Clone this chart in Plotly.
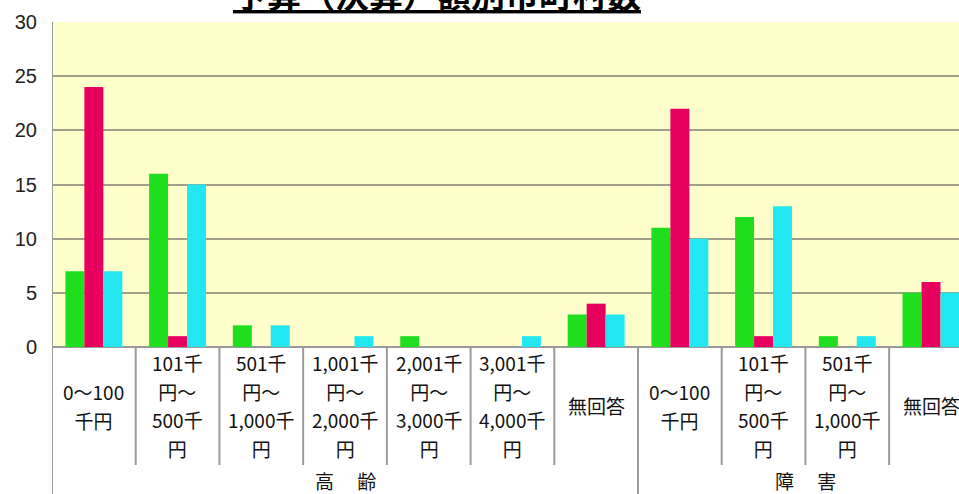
import plotly.graph_objects as go

# 区分ラベル（グループ別）
group_names = ["高　 齢", "障　 害"]
age_categories = [
    "0〜100<br>千円",
    "101千<br>円〜<br>500千<br>円",
    "501千<br>円〜<br>1,000千<br>円",
    "1,001千<br>円〜<br>2,000千<br>円",
    "2,001千<br>円〜<br>3,000千<br>円",
    "3,001千<br>円〜<br>4,000千<br>円",
    "無回答",
]
disability_categories = [
    "0〜100<br>千円",
    "101千<br>円〜<br>500千<br>円",
    "501千<br>円〜<br>1,000千<br>円",
    "無回答",
]

# 市町村数（系列別）
series_green = [7, 16, 2, 0, 1, 0, 3, 11, 12, 1, 5]
series_red = [24, 1, 0, 0, 0, 0, 4, 22, 1, 0, 6]
series_cyan = [7, 15, 2, 1, 0, 1, 3, 10, 13, 1, 5]

y_ticks = [0, 5, 10, 15, 20, 25, 30]

title_text = "予算（決算）額別市町村数"

categories = age_categories + disability_categories
group_sizes = [len(age_categories), len(disability_categories)]
x_pos = list(range(len(categories)))

W, H = 959, 494
M_L, M_R, M_T, M_B = 52, 0, 22, 147
plot_h = H - M_T - M_B


def py(px_from_top):
    """Convert a pixel row (from figure top) to paper y."""
    return (H - M_B - px_from_top) / plot_h


fig = go.Figure()
for vals, color, name in [
    (series_green, "#1ede1e", "green"),
    (series_red, "#e8005e", "red"),
    (series_cyan, "#22e6f0", "cyan"),
]:
    fig.add_trace(go.Bar(
        x=x_pos, y=vals, name=name,
        marker=dict(color=color, line=dict(width=0)),
        hoverinfo="y",
    ))

GRID = "#a09f8c"
DIV = "#9a9a9a"

shapes = []
annotations = []

# category labels and dividers below the axis
label_font = dict(family="Noto Sans CJK JP", size=22, color="#111111")
for i, lab in enumerate(categories):
    annotations.append(dict(
        x=i, xref="x", y=py(406), yref="paper",
        text="<br>".join(f"<span style='font-size:19px'>{part}</span>"
                         for part in lab.split("<br>")),
        showarrow=False, xanchor="center", yanchor="middle",
        align="center", font=label_font,
    ))

boundaries = []
start = 0
for g, size in zip(group_names, group_sizes):
    boundaries.append(start - 0.5)
    annotations.append(dict(
        x=start + (size - 1) / 2, xref="x", y=py(480), yref="paper",
        text=f"<span style='font-size:19px'>{g}</span>",
        showarrow=False, xanchor="center", yanchor="middle",
        font=label_font,
    ))
    for k in range(1, size):
        xb = start + k - 0.5
        shapes.append(dict(type="line", xref="x", yref="paper",
                           x0=xb, x1=xb, y0=0, y1=py(465),
                           line=dict(color=DIV, width=2)))
    start += size
boundaries.append(start - 0.5)
for j, xb in enumerate(boundaries):
    # the leftmost boundary doubles as the value axis line
    shapes.append(dict(type="line", xref="x", yref="paper",
                       x0=xb, x1=xb, y0=1 if j == 0 else 0, y1=py(H + 2),
                       line=dict(color=DIV, width=2)))

# title
annotations.append(dict(
    x=(437 - M_L) / (W - M_L - M_R), xref="paper", y=py(-7), yref="paper",
    text=f"<b>{title_text}</b>", showarrow=False,
    xanchor="center", yanchor="middle",
    font=dict(family="Noto Sans CJK JP", size=34, color="#000000",
              lineposition="under"),
))

fig.update_layout(
    width=W, height=H,
    margin=dict(l=M_L, r=M_R, t=M_T, b=M_B),
    paper_bgcolor="#ffffff",
    plot_bgcolor="#ffffcc",
    barmode="group",
    bargap=0.32,
    bargroupgap=0,
    showlegend=False,
    shapes=shapes,
    annotations=annotations,
    xaxis=dict(
        range=[-0.5, -0.5 + (W - M_L - M_R) / ((638 - M_L) / 7)],
        showticklabels=False, showgrid=False, zeroline=False,
        showline=False, ticks="",
    ),
    yaxis=dict(
        range=[0, 30], tickvals=y_ticks,
        showgrid=True, gridcolor=GRID, gridwidth=2,
        zeroline=True, zerolinecolor=DIV, zerolinewidth=2,
        showline=False, ticks="",
        ticklabelstandoff=14,
        tickfont=dict(family="Liberation Sans", size=20, color="#222222"),
    ),
)

fig.write_html("out.html")
